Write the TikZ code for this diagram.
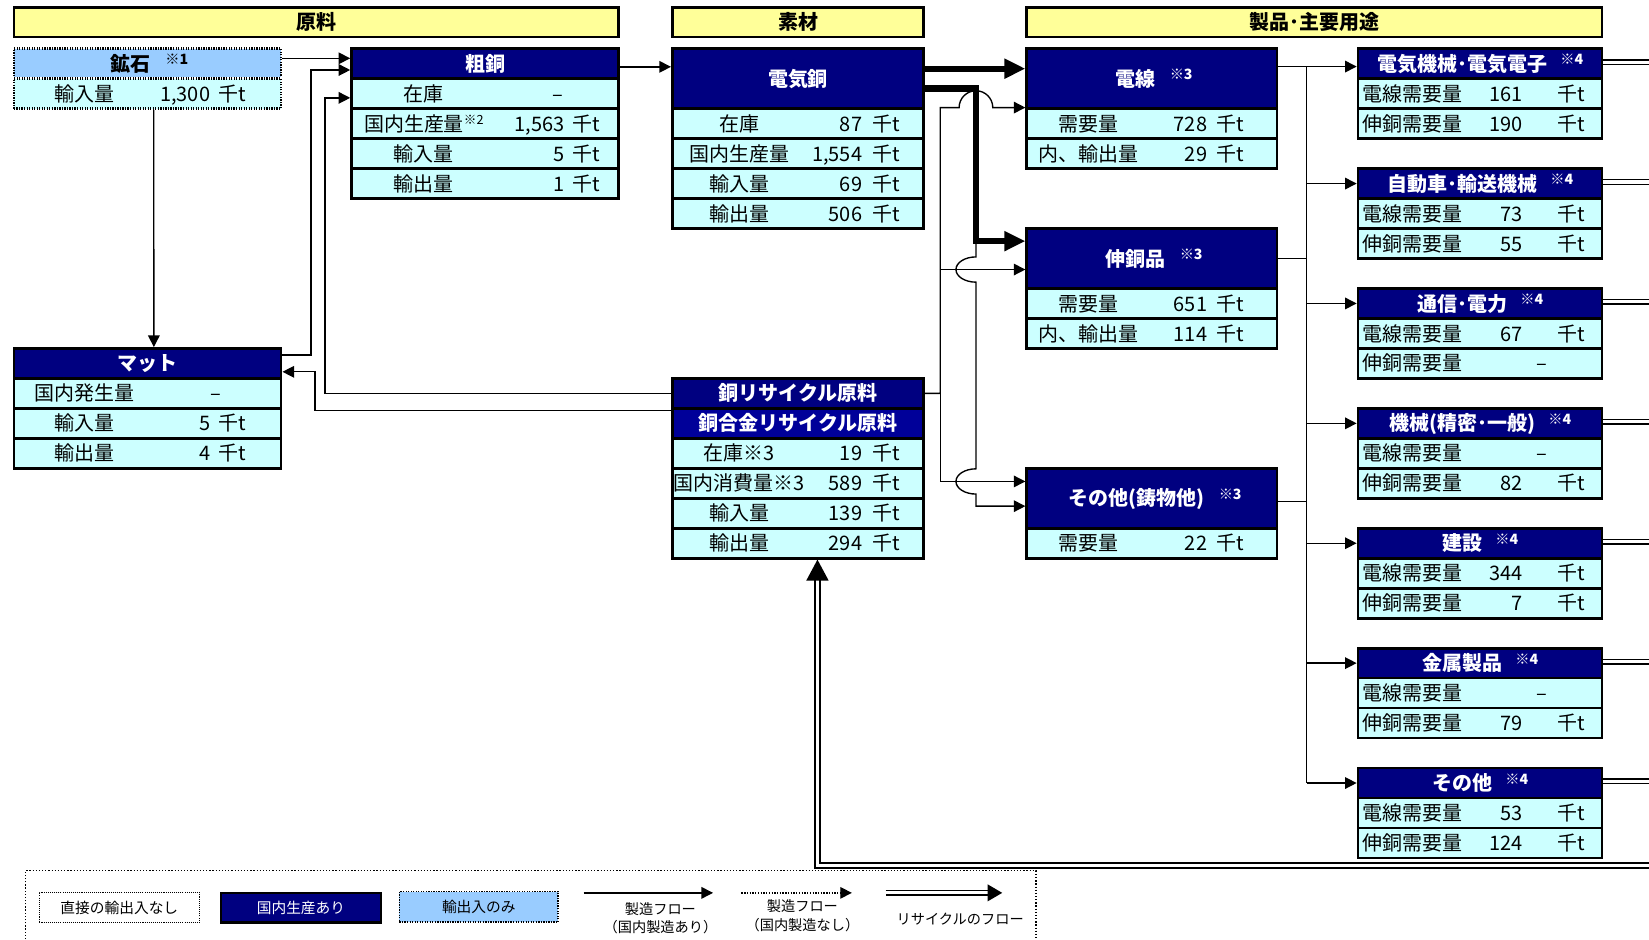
\documentclass[tikz,border=0pt]{standalone}
\usepackage{fontspec}
\setmainfont{Noto Sans CJK JP}
\usetikzlibrary{arrows.meta,calc}
\definecolor{navyc}{HTML}{000080}
\definecolor{navyb}{HTML}{000099}
\definecolor{cyanc}{HTML}{CCFFFF}
\definecolor{lblue}{HTML}{99CCFF}
\definecolor{yel}{HTML}{FFFF99}
\newcommand\fs[1]{\fontsize{#1}{#1}\selectfont}
\newcommand\nt[2][14]{\rlap{\hspace{#1pt}\raisebox{6pt}{\fs{13.5}\bfseries #2}}}
\tikzset{
 cell/.style={draw=black, line width=2.6pt, inner sep=0pt, anchor=north west, minimum height=28.5pt},
 hd/.style={cell, fill=navyc},
 rw/.style={cell, fill=cyanc},
 yb/.style={cell, fill=yel, minimum height=28pt},
 dotb/.style={line width=2.4pt, dash pattern=on 1.2pt off 1.2pt, preaction={draw=white, solid, line width=2.4pt}},
 tx/.style={inner sep=0pt, font=\fs{19}, text height=16.5pt, text depth=2.1pt},
 tb/.style={tx, font=\fs{19}\bfseries, text=white},
 lt/.style={inner sep=0pt, font=\fs{14}, text height=12.2pt, text depth=1.6pt},
 lt2/.style={inner sep=0pt, font=\fs{13.5}, text height=11.8pt, text depth=1.5pt},
 flow/.style={line width=1.3pt, -{Triangle[length=11pt,width=11pt]}},
 line/.style={line width=1.3pt},
 bigflow/.style={line width=6pt, -{Triangle[length=20pt,width=18pt]}},
 dbl/.style={double=white, double distance=3pt, line width=1.4pt},
}
% data row: name, x, y, label, number, unit  (uses \W,\LX,\NX,\UX)
\newcommand\dr[6]{%
 \node[rw, minimum width=\W pt] (#1) at (#2,#3) {};
 \node[tx] at ([xshift=\LX pt]#1.west) {#4};
 \node[tx, anchor=east] at ([xshift=\NX pt]#1.west) {#5};
 \node[tx, anchor=west] at ([xshift=\UX pt]#1.west) {#6};}
\newcommand\hb[5]{\node[hd, minimum width=#4pt, minimum height=#5pt] (#1) at (#2,#3) {};}
% right column box: index, top y, title
\newcommand\rb[3]{%
 \node[hd, minimum width=232pt] (r#1) at (1290,#2) {};
 \node[tb] at ([xshift=101pt]r#1.west) {#3\nt[12]{※4}};
 \node[rw, minimum width=232pt] (r#1a) at (1290,#2+28.5) {};
 \node[tx, anchor=west] at ([xshift=5pt]r#1a.west) {電線需要量};
 \node[rw, minimum width=232pt] (r#1b) at (1290,#2+57) {};
 \node[tx, anchor=west] at ([xshift=5pt]r#1b.west) {伸銅需要量};}
\newcommand\rv[2]{\node[tx, anchor=east] at ([xshift=158pt]#1.west) {#2};
 \node[tx, anchor=west] at ([xshift=191pt]#1.west) {千t};}
\newcommand\rdash[1]{\node[tx] at ([xshift=176pt]#1.west) {–};}
\begin{document}
\begin{tikzpicture}[x=1pt,y=-1pt]
\useasboundingbox (0,0) rectangle (1568,893);
% section headers
\node[yb, minimum width=575pt] (yA) at (12,6) {};
\node[tb, text=black] at (yA.center) {原料};
\node[yb, minimum width=239pt] (yB) at (638,6) {};
\node[tb, text=black] at (yB.center) {素材};
\node[yb, minimum width=547pt] (yC) at (975,6) {};
\node[tb, text=black] at (yC.center) {製品･主要用途};
% 鉱石
\node[cell, fill=lblue, dotb, minimum width=254pt] (kou) at (12,45) {};
\node[tb, text=black] at ([xshift=-16pt]kou.center) {鉱石\nt{※1}};
\node[cell, fill=cyanc, dotb, minimum width=254pt] (kouA) at (12,73.5) {};
\node[tx] at ([xshift=68pt]kouA.west) {輸入量};
\node[tx, anchor=east] at ([xshift=188pt]kouA.west) {1,300};
\node[tx, anchor=west] at ([xshift=196pt]kouA.west) {千t};
% マット
\hb{mat}{12}{330}{254}{28.5}
\node[tb] at (mat.center) {マット};
\def\W{254}\def\LX{68}\def\NX{188}\def\UX{196}
\dr{matA}{12}{358.5}{国内発生量}{}{}
\node[tx] at ([xshift=193pt]matA.west) {–};
\dr{matB}{12}{387}{輸入量}{5}{千t}
\dr{matC}{12}{415.5}{輸出量}{4}{千t}
% 粗銅
\hb{soh}{333}{45}{254}{28.5}
\node[tb] at (soh.center) {粗銅};
\def\LX{70}\def\NX{204}\def\UX{211}
\dr{sohA}{333}{73.5}{在庫}{}{}
\node[tx] at ([xshift=197pt]sohA.west) {–};
\dr{sohB}{333}{102}{国内生産量\raisebox{6pt}{\fs{12}※2}}{1,563}{千t}
\dr{sohC}{333}{130.5}{輸入量}{5}{千t}
\dr{sohD}{333}{159}{輸出量}{1}{千t}
% 電気銅
\hb{den}{638}{45}{239}{57}
\node[tb] at (den.center) {電気銅};
\def\W{239}\def\LX{65}\def\NX{182}\def\UX{191}
\dr{denA}{638}{102}{在庫}{87}{千t}
\dr{denB}{638}{130.5}{国内生産量}{1,554}{千t}
\dr{denC}{638}{159}{輸入量}{69}{千t}
\dr{denD}{638}{187.5}{輸出量}{506}{千t}
% recycle
\hb{rc1}{638}{358.5}{239}{28.5}
\node[tb] at (rc1.center) {銅リサイクル原料};
\node[hd, fill=navyb, minimum width=239pt] (rc2) at (638,387) {};
\node[tb] at (rc2.center) {銅合金リサイクル原料};
\dr{rcA}{638}{415.5}{在庫※3}{19}{千t}
\dr{rcB}{638}{444}{国内消費量※3}{589}{千t}
\dr{rcC}{638}{472.5}{輸入量}{139}{千t}
\dr{rcD}{638}{501}{輸出量}{294}{千t}
% 電線
\hb{sen}{975}{45}{238}{57}
\node[tb] at ([xshift=-16pt]sen.center) {電線\nt{※3}};
\def\W{238}\def\LX{60}\def\NX{173}\def\UX{182}
\dr{senA}{975}{102}{需要量}{728}{千t}
\dr{senB}{975}{130.5}{内、輸出量}{29}{千t}
% 伸銅品
\hb{shin}{975}{216}{238}{57}
\node[tb] at ([xshift=-16pt]shin.center) {伸銅品\nt{※3}};
\dr{shinA}{975}{273}{需要量}{651}{千t}
\dr{shinB}{975}{301.5}{内、輸出量}{114}{千t}
% その他(鋳物他)
\hb{oth}{975}{444}{238}{57}
\node[tb] at ([xshift=-15pt]oth.center) {その他(鋳物他)\nt{※3}};
\dr{othA}{975}{501}{需要量}{22}{千t}
% right column
\rb{1}{45}{電気機械･電気電子}
\rv{r1a}{161}\rv{r1b}{190}
\rb{2}{159}{自動車･輸送機械}
\rv{r2a}{73}\rv{r2b}{55}
\rb{3}{273}{通信･電力}
\rv{r3a}{67}\rdash{r3b}
\rb{4}{387}{機械(精密･一般)}
\rdash{r4a}\rv{r4b}{82}
\rb{5}{501}{建設}
\rv{r5a}{344}\rv{r5b}{7}
\rb{6}{615}{金属製品}
\rdash{r6a}\rv{r6b}{79}
\rb{7}{729}{その他}
\rv{r7a}{53}\rv{r7b}{124}
% ---- connectors ----
\draw[flow] ([yshift=5pt]kou.east) -- ([yshift=5pt]kou.east -| soh.west);
\draw[flow] ([yshift=8pt]mat.east) -| ([xshift=27pt,yshift=-6pt]mat.east |- soh.west) -- ([yshift=-6pt]soh.west);
\draw[flow] (rc1.west) -| ([xshift=-24pt,yshift=-4pt]sohA.west) -- ([yshift=-4pt]sohA.west);
\draw[flow] ([yshift=12pt]rc2.west) -| ([xshift=31pt,yshift=-8pt]mat.east) -- ([yshift=-8pt]mat.east);
\draw[flow] ([xshift=6pt]kouA.south) -- ([xshift=6pt]mat.north);
\draw[flow] ([yshift=-3pt]soh.east) -- ([yshift=-3pt]soh.east -| den.west);
\draw[bigflow] ([yshift=9.5pt]den.east) -- ([yshift=9.5pt]den.east -| sen.west);
\coordinate (tc) at ([xshift=-47pt,yshift=16.5pt]shin.west);
\draw[bigflow] ([yshift=-9.5pt]den.east) -| (tc) -- ([yshift=16.5pt]shin.west);
\draw[flow] (tc) -- ++(0,15) arc[start angle=90, end angle=270, x radius=19pt, y radius=12pt]
  -- ++(0,177.5) arc[start angle=90, end angle=270, x radius=19pt, y radius=12pt]
  |- ([yshift=-7.5pt]oth.west);
\draw[flow] (rc1.east) -| ([xshift=-81pt,yshift=-27.5pt]sen.west) -- ([xshift=-63pt,yshift=-27.5pt]sen.west)
  arc[start angle=180, end angle=0, radius=16pt] -- ([yshift=-27.5pt]sen.west);
\draw[flow] ([xshift=-81pt,yshift=-10.5pt]shin.west) -- ([yshift=-10.5pt]shin.west);
\draw[flow] (rc1.east) -| ([xshift=-81pt,yshift=16pt]oth.west) -- ([yshift=16pt]oth.west);
% products to uses
\coordinate (bt) at ([xshift=27pt,yshift=11.5pt]sen.east);
\draw[line] (bt) -- (bt |- r7.west);
\draw[flow] ([yshift=11.5pt]sen.east) -- ([yshift=11.5pt]sen.east -| r1.west);
\foreach \k in {2,...,7} \draw[flow] (bt |- r\k.west) -- (r\k.west);
\draw[line] (shin.east) -- (shin.east -| bt);
\draw[line] ([yshift=-3pt]oth.east) -- ([yshift=-3pt]oth.east -| bt);
% recycle flows
\coordinate (re) at (1568,823);
\foreach \k in {1,...,7} \draw[dbl] ([yshift=1.5pt]r\k.east) -- ([yshift=1.5pt]r\k.east -| re);
\draw[dbl, -{Triangle[length=20pt,width=21pt]}] (re) -| ([xshift=18.5pt]rcD.south);
% legend
\draw[line width=1.2pt, dash pattern=on 1.2pt off 1.8pt] (24,893) -- (24,828) -- (985,828) -- (985,893);
\node[cell, minimum width=152pt, minimum height=29pt, line width=0.9pt, dash pattern=on 1pt off 1pt] (lg1) at (37,848) {};
\node[lt] at (lg1.center) {直接の輸出入なし};
\node[hd, minimum width=152pt, minimum height=28pt, line width=2.4pt] (lg2) at (209,848) {};
\node[lt, text=white] at (lg2.center) {国内生産あり};
\node[cell, fill=lblue, minimum width=151pt, minimum height=29pt, line width=1.6pt, dash pattern=on 1.2pt off 1.2pt] (lg3) at (379,847) {};
\node[lt] at (lg3.center) {輸出入のみ};
\coordinate (a1s) at (555,849); \coordinate (a1e) at (678,849);
\draw[flow] (a1s) -- (a1e);
\node[lt2] at (628,864) {製造フロー};
\node[lt2] at (628,882) {（国内製造あり）};
\coordinate (a2s) at (705,849); \coordinate (a2e) at (810,849);
\draw[flow, dash pattern=on 1.3pt off 1.3pt] (a2s) -- (a2e);
\node[lt2] at (763,862) {製造フロー};
\node[lt2] at (763,880) {（国内製造なし）};
\coordinate (a3s) at (842,849); \coordinate (a3e) at (953,849);
\draw[dbl, -{Triangle[length=14pt,width=16pt]}] (a3s) -- (a3e);
\node[lt2] at (913,874) {リサイクルのフロー};
\end{tikzpicture}
\end{document}
